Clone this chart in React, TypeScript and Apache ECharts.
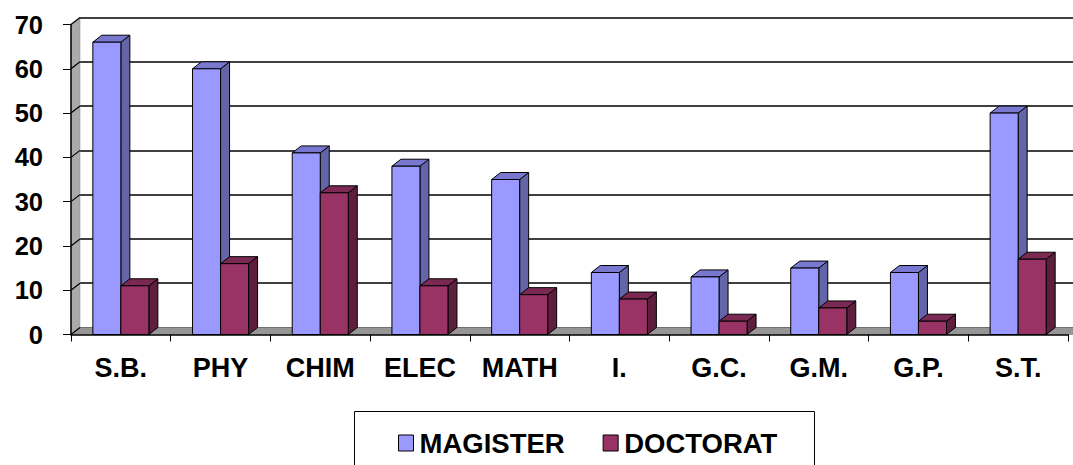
import React, { useEffect, useRef } from "react";
import * as echarts from "echarts";

const categories = ["S.B.", "PHY", "CHIM", "ELEC", "MATH", "I.", "G.C.", "G.M.", "G.P.", "S.T."];
const magister = [66, 60, 41, 38, 35, 14, 13, 15, 14, 50];
const doctorat = [11, 16, 32, 11, 9, 8, 3, 6, 3, 17];
const yTicks = [0, 10, 20, 30, 40, 50, 60, 70];
const yMin = 0;
const yMax = 70;
const yInterval = 10;

const FONT = "'Liberation Sans', Arial, sans-serif";
const DX = 9;
const DY = -7;
const G = { left: 71, right: 5, top: 24.5, bottom: 130.5 };
const BAR_FRAC = 0.281;

const palettes = [
  { front: "#9999FF", top: "#7878D0", side: "#6464A8" },
  { front: "#993366", top: "#7A2952", side: "#5E1F3F" },
];

function barRender(seriesIdx: number) {
  return (params: any, api: any) => {
    const idx = api.value(0);
    const v = api.value(1);
    const t = api.coord([idx, v]);
    const b = api.coord([idx, 0]);
    const bw = api.size([1, 0])[0];
    const w = bw * BAR_FRAC;
    const x1 = seriesIdx === 0 ? t[0] - w : t[0];
    const x2 = x1 + w;
    const top = t[1];
    const bottom = b[1];
    const p = palettes[seriesIdx];
    const st = { stroke: "#000", lineWidth: 1 };
    return {
      type: "group",
      children: [
        {
          type: "polygon",
          shape: { points: [[x2, top], [x2 + DX, top + DY], [x2 + DX, bottom + DY], [x2, bottom]] },
          style: { fill: p.side, ...st },
        },
        {
          type: "polygon",
          shape: { points: [[x1, top], [x2, top], [x2 + DX, top + DY], [x1 + DX, top + DY]] },
          style: { fill: p.top, ...st },
        },
        {
          type: "rect",
          shape: { x: x1, y: top, width: w, height: bottom - top },
          style: { fill: p.front, ...st },
        },
      ],
    };
  };
}

export default function App() {
  const ref = useRef<HTMLDivElement>(null);
  useEffect(() => {
    if (!ref.current) return;
    const chart = echarts.init(ref.current, undefined, { renderer: "svg" });
    const option: any = {
      animation: false,
      backgroundColor: "#fff",
      grid: [
        { left: G.left, right: G.right, top: G.top, bottom: G.bottom },
        { left: G.left + DX, right: 0, top: G.top + DY, bottom: G.bottom - DY },
      ],
      xAxis: [
        {
          type: "category",
          gridIndex: 0,
          data: categories,
          z: 10,
          axisLine: { lineStyle: { color: "#000", width: 1.5 } },
          axisTick: { show: true, length: 7, lineStyle: { color: "#000", width: 1 } },
          axisLabel: {
            interval: 0,
            margin: 20,
            color: "#000",
            fontFamily: FONT,
            fontWeight: "bold",
            fontSize: 27,
          },
        },
        {
          type: "value",
          gridIndex: 1,
          show: false,
          min: 0,
          max: 1,
        },
      ],
      yAxis: [
        {
          type: "value",
          gridIndex: 0,
          min: yMin,
          max: yMax,
          interval: yInterval,
          z: 10,
          axisLine: { show: true, lineStyle: { color: "#000", width: 1.5 } },
          axisTick: { show: true, length: 8, lineStyle: { color: "#000", width: 1 } },
          splitLine: { show: false },
          axisLabel: {
            margin: 28,
            color: "#000",
            fontFamily: FONT,
            fontWeight: "bold",
            fontSize: 25.5,
            padding: [5, 0, 0, 0],
          },
        },
        {
          type: "value",
          gridIndex: 1,
          min: yMin,
          max: yMax,
          interval: yInterval,
          axisLine: { show: false },
          axisTick: { show: false },
          axisLabel: { show: false },
          splitLine: { show: true, lineStyle: { color: "#000", width: 1.5 } },
        },
      ],
      legend: {
        left: 393,
        top: 424,
        icon: "rect",
        itemWidth: 15,
        itemHeight: 16,
        itemGap: 38,
        textStyle: {
          color: "#000",
          fontFamily: FONT,
          fontWeight: "bold",
          fontSize: 27.5,
          padding: [0, 0, 0, 1],
        },
        data: [
          { name: "MAGISTER", itemStyle: { color: palettes[0].front, borderColor: "#000", borderWidth: 1 } },
          { name: "DOCTORAT", itemStyle: { color: palettes[1].front, borderColor: "#000", borderWidth: 1 } },
        ],
      },
      graphic: [
        {
          type: "rect",
          shape: { x: 354.5, y: 411.5, width: 460, height: 80 },
          style: { fill: "none", stroke: "#000", lineWidth: 1 },
          z: -1,
        },
      ],
      series: [
        {
          type: "custom",
          name: "walls",
          xAxisIndex: 0,
          yAxisIndex: 0,
          z: 1,
          clip: false,
          silent: true,
          data: [[0, 0]],
          renderItem: (params: any, api: any) => {
            const cs = params.coordSys;
            const x0 = cs.x;
            const yT = cs.y;
            const yB = cs.y + cs.height;
            const xR = cs.x + cs.width + 5;
            return {
              type: "group",
              children: [
                {
                  type: "polygon",
                  shape: { points: [[x0, yT], [x0 + DX, yT + DY], [x0 + DX, yB + DY], [x0, yB]] },
                  style: { fill: "#AAAAAA", stroke: "#8A8A8A", lineWidth: 0.5 },
                },
                {
                  type: "polygon",
                  shape: { points: [[x0, yB], [xR, yB], [xR + DX, yB + DY], [x0 + DX, yB + DY]] },
                  style: { fill: "#969696", stroke: "#777", lineWidth: 0.5 },
                },
              ],
            };
          },
        },
        {
          type: "custom",
          name: "ticks3d",
          xAxisIndex: 0,
          yAxisIndex: 0,
          z: 1.5,
          clip: false,
          silent: true,
          data: yTicks.map((v) => [0, v]),
          renderItem: (params: any, api: any) => {
            const cs = params.coordSys;
            const y = api.coord([0, api.value(1)])[1];
            return {
              type: "line",
              shape: { x1: cs.x, y1: y, x2: cs.x + DX, y2: y + DY },
              style: { stroke: "#000", lineWidth: 1.2 },
            };
          },
        },
        {
          type: "custom",
          name: "MAGISTER",
          xAxisIndex: 0,
          yAxisIndex: 0,
          z: 3,
          clip: false,
          itemStyle: { color: palettes[0].front, borderColor: "#000", borderWidth: 1 },
          encode: { x: 0, y: 1 },
          data: magister.map((v, i) => [i, v]),
          renderItem: barRender(0),
        },
        {
          type: "custom",
          name: "DOCTORAT",
          xAxisIndex: 0,
          yAxisIndex: 0,
          z: 3,
          clip: false,
          itemStyle: { color: palettes[1].front, borderColor: "#000", borderWidth: 1 },
          encode: { x: 0, y: 1 },
          data: doctorat.map((v, i) => [i, v]),
          renderItem: barRender(1),
        },
      ],
    };
    chart.setOption(option);
    return () => chart.dispose();
  }, []);
  return (
    <div
      ref={ref}
      style={{ position: "fixed", left: 0, top: 0, width: 1073, height: 465, background: "#fff" }}
    />
  );
}
